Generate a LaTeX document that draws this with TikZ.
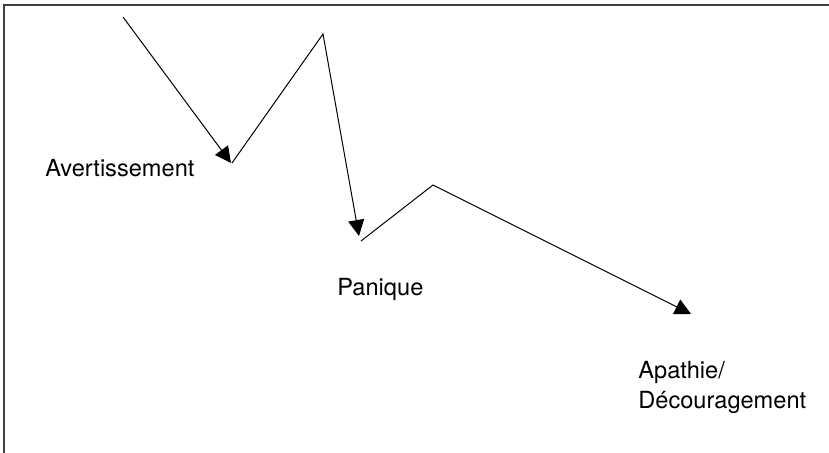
\documentclass[tikz,border=0pt]{standalone}
\usepackage{fontspec}
\setmainfont{TeX Gyre Heros}
\usetikzlibrary{arrows.meta}

\begin{document}
\begin{tikzpicture}[
    x=0.5pt, y=-0.5pt,
    every node/.style={font=\fontsize{11.8}{15}\selectfont, inner sep=0pt},
    stage/.style={anchor=base west, align=left},
    frame/.style={line width=0.8pt, draw=black!75},
    trend/.style={line width=0.5pt},
    drop/.style={trend, -{Triangle[length=8pt,width=8pt]}}
]
\useasboundingbox (0,0) rectangle (829,453);
\draw[frame] (4,453) -- (4,5) -- (829,5);
% turning points of the curve
\coordinate (start) at (123,17);
\coordinate (warn) at (231,163);
\coordinate (warnup) at (232,163);
\coordinate (peakA) at (323,34);
\coordinate (panic) at (359,236);
\coordinate (panicup) at (361,241);
\coordinate (peakB) at (433,185);
\coordinate (apathy) at (691,314);
\draw[drop] (start) -- (warn);
\draw[drop] (warnup) -- (peakA) -- (panic);
\draw[drop] (panicup) -- (peakB) -- (apathy);
% stage labels
\node[stage] (warnlabel) at (45,177) {Avertissement};
\node[stage] (paniclabel) at (337,296) {Panique};
\node[stage] (apathylabel) at (638,409) {Apathie/\\Découragement};
\end{tikzpicture}
\end{document}
